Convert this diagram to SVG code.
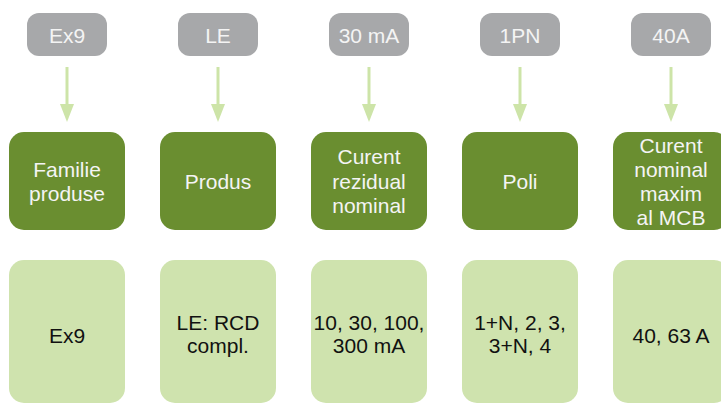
<svg xmlns="http://www.w3.org/2000/svg" width="721" height="404" viewBox="0 0 721 404">
<style>
.g{fill:#a7a8aa}
.d{fill:#6a8e30}
.l{fill:#cfe3ae}
text{font-family:"Liberation Sans",Arial,sans-serif;font-size:21px;text-anchor:middle}
.tw{fill:#f4f4f4}
.tk{fill:#111111}
.c{stroke:#cde4a8;stroke-width:3;fill:none}
.ah{fill:#cde4a8}
</style>
<rect width="721" height="404" fill="#ffffff"/>
<g id="connectors">
<line class="c" x1="67" y1="67" x2="67" y2="106"/><polygon class="ah" points="60,104 74,104 67,122"/>
<line class="c" x1="218" y1="67" x2="218" y2="106"/><polygon class="ah" points="211,104 225,104 218,122"/>
<line class="c" x1="369" y1="67" x2="369" y2="106"/><polygon class="ah" points="362,104 376,104 369,122"/>
<line class="c" x1="520" y1="67" x2="520" y2="106"/><polygon class="ah" points="513,104 527,104 520,122"/>
<line class="c" x1="671" y1="67" x2="671" y2="106"/><polygon class="ah" points="664,104 678,104 671,122"/>
</g>
<g id="top1"><rect class="g" x="27" y="13" width="80" height="43" rx="12"/><text class="tw" x="67" y="42.5">Ex9</text></g>
<g id="top2"><rect class="g" x="178" y="13" width="80" height="43" rx="12"/><text class="tw" x="218" y="42.5">LE</text></g>
<g id="top3"><rect class="g" x="329" y="13" width="80" height="43" rx="12"/><text class="tw" x="369" y="42.5">30 mA</text></g>
<g id="top4"><rect class="g" x="480" y="13" width="80" height="43" rx="12"/><text class="tw" x="520" y="42.5">1PN</text></g>
<g id="top5"><rect class="g" x="631" y="13" width="80" height="43" rx="12"/><text class="tw" x="671" y="42.5">40A</text></g>

<g id="mid1"><rect class="d" x="9" y="132" width="116" height="98" rx="15"/><text class="tw" x="67" y="177">Familie</text><text class="tw" x="67" y="201">produse</text></g>
<g id="mid2"><rect class="d" x="160" y="132" width="116" height="98" rx="15"/><text class="tw" x="218" y="189">Produs</text></g>
<g id="mid3"><rect class="d" x="311" y="132" width="116" height="98" rx="15"/><text class="tw" x="369" y="164">Curent</text><text class="tw" x="369" y="188.5">rezidual</text><text class="tw" x="369" y="213">nominal</text></g>
<g id="mid4"><rect class="d" x="462" y="132" width="116" height="98" rx="15"/><text class="tw" x="520" y="189">Poli</text></g>
<g id="mid5"><rect class="d" x="613" y="132" width="116" height="98" rx="15"/><text class="tw" x="671" y="153">Curent</text><text class="tw" x="671" y="177">nominal</text><text class="tw" x="671" y="201">maxim</text><text class="tw" x="671" y="225">al MCB</text></g>

<g id="bot1"><rect class="l" x="9" y="260" width="116" height="143" rx="15"/><text class="tk" x="67" y="343">Ex9</text></g>
<g id="bot2"><rect class="l" x="160" y="260" width="116" height="143" rx="15"/><text class="tk" x="218" y="330">LE: RCD</text><text class="tk" x="218" y="353">compl.</text></g>
<g id="bot3"><rect class="l" x="311" y="260" width="116" height="143" rx="15"/><text class="tk" x="369" y="330">10, 30, 100,</text><text class="tk" x="369" y="353">300 mA</text></g>
<g id="bot4"><rect class="l" x="462" y="260" width="116" height="143" rx="15"/><text class="tk" x="520" y="330">1+N, 2, 3,</text><text class="tk" x="520" y="353">3+N, 4</text></g>
<g id="bot5"><rect class="l" x="613" y="260" width="116" height="143" rx="15"/><text class="tk" x="671" y="343">40, 63 A</text></g>
</svg>
